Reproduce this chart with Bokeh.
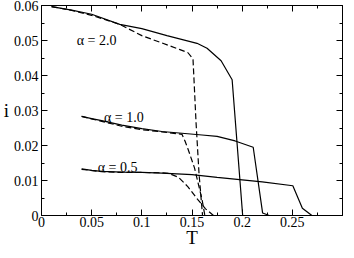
from bokeh.plotting import figure
from bokeh.models import Range1d, LinearAxis, FixedTicker, Label
from bokeh.embed import file_html
from bokeh.resources import INLINE

# ---- data ----
T_a20_solid = [0.01, 0.03, 0.05, 0.078, 0.1, 0.125, 0.155, 0.165, 0.179, 0.19, 0.2005]
i_a20_solid = [0.0597, 0.0587, 0.0575, 0.0546, 0.0534, 0.0514, 0.0492, 0.0478, 0.0442, 0.0388, 0.0]

T_a20_dash = [0.01, 0.03, 0.05, 0.078, 0.1, 0.12, 0.138, 0.146, 0.151, 0.152, 0.154, 0.157, 0.1605]
i_a20_dash = [0.0597, 0.0586, 0.0572, 0.0546, 0.0514, 0.0493, 0.0474, 0.0465, 0.0447, 0.0388, 0.0267, 0.0120, 0.0]

T_a10_solid = [0.04, 0.05, 0.06, 0.08, 0.1, 0.12, 0.14, 0.16, 0.175, 0.193, 0.211, 0.2204, 0.227]
i_a10_solid = [0.0283, 0.0277, 0.0271, 0.0258, 0.0248, 0.0240, 0.0235, 0.0230, 0.0226, 0.0213, 0.0195, 0.0007, 0.0]

T_a10_dash = [0.04, 0.06, 0.08, 0.1, 0.12, 0.14, 0.143, 0.146, 0.1525, 0.157, 0.16, 0.1628]
i_a10_dash = [0.0283, 0.0269, 0.0255, 0.0245, 0.0239, 0.0232, 0.0213, 0.0190, 0.0136, 0.0082, 0.0046, 0.0]

T_a05_solid = [0.04, 0.05, 0.06, 0.08, 0.1, 0.12, 0.15, 0.175, 0.2, 0.22, 0.2505, 0.26, 0.2695]
i_a05_solid = [0.0133, 0.0129, 0.0126, 0.0124, 0.0123, 0.0121, 0.0117, 0.0109, 0.0102, 0.0096, 0.0085, 0.0021, 0.0]

T_a05_dash = [0.04, 0.06, 0.08, 0.1, 0.12, 0.127, 0.1366, 0.146, 0.1556, 0.1635, 0.1714]
i_a05_dash = [0.0132, 0.0125, 0.0123, 0.0123, 0.0122, 0.0120, 0.0109, 0.0082, 0.0046, 0.0019, 0.0]

curve_labels = ["\u03b1 = 2.0", "\u03b1 = 1.0", "\u03b1 = 0.5"]
curve_label_T = [0.0351, 0.0623, 0.056]
curve_label_i = [0.0500, 0.0280, 0.0138]

x_major = [0, 0.05, 0.1, 0.15, 0.2, 0.25]
x_labels = ["0", "0.05", "0.1", "0.15", "0.2", "0.25"]
x_minor = [0.025, 0.075, 0.125, 0.175, 0.225, 0.275]
y_major = [0, 0.01, 0.02, 0.03, 0.04, 0.05, 0.06]
y_labels = ["0", "0.01", "0.02", "0.03", "0.04", "0.05", "0.06"]
y_minor = [0.005, 0.015, 0.025, 0.035, 0.045, 0.055]

FONT = "'Liberation Serif'"

p = figure(width=346, height=250, x_range=Range1d(0, 0.3), y_range=Range1d(0, 0.06),
           output_backend="svg", toolbar_location=None,
           min_border_left=34, min_border_right=4, min_border_top=5, min_border_bottom=31)
p.xgrid.visible = False
p.ygrid.visible = False
p.outline_line_color = "black"
p.background_fill_color = "white"
p.border_fill_color = "white"

xt = FixedTicker(ticks=x_major, minor_ticks=x_minor)
yt = FixedTicker(ticks=y_major, minor_ticks=y_minor)

def style(ax, show_labels, overrides=None):
    ax.axis_line_color = "black"
    ax.axis_line_width = 1
    ax.major_tick_in = 6
    ax.major_tick_out = 0
    ax.minor_tick_in = 3
    ax.minor_tick_out = 0
    ax.major_tick_line_color = "black"
    ax.minor_tick_line_color = "black"
    if show_labels:
        ax.major_label_text_font = FONT
        ax.major_label_text_font_size = "14px"
        ax.major_label_text_color = "black"
        ax.major_label_overrides = overrides
    else:
        ax.major_label_text_font_size = "1px"
        ax.major_label_text_color = None
        ax.major_label_standoff = 0

p.xaxis.ticker = xt
p.yaxis.ticker = yt
style(p.xaxis[0], True, dict(zip(x_major, x_labels)))
style(p.yaxis[0], True, dict(zip(y_major, y_labels)))
p.xaxis.major_label_standoff = 1
p.yaxis.major_label_standoff = 3

p.xaxis.axis_label = "T"
p.xaxis.axis_label_text_font = FONT
p.xaxis.axis_label_text_font_size = "19px"
p.xaxis.axis_label_text_font_style = "normal"
p.xaxis.axis_label_text_color = "black"
p.xaxis.axis_label_standoff = -3

p.yaxis.axis_label = "i"
p.yaxis.axis_label_orientation = "horizontal"
p.yaxis.axis_label_text_font = FONT
p.yaxis.axis_label_text_font_size = "19px"
p.yaxis.axis_label_text_font_style = "normal"
p.yaxis.axis_label_text_color = "black"
p.yaxis.axis_label_standoff = 2

top = LinearAxis(ticker=xt)
style(top, False)
right = LinearAxis(ticker=yt)
style(right, False)
p.add_layout(top, "above")
p.add_layout(right, "right")

solid = dict(line_color="black", line_width=1.2)
dash = dict(line_color="black", line_width=1.2, line_dash="6 3")
p.line(T_a20_solid, i_a20_solid, **solid)
p.line(T_a20_dash, i_a20_dash, **dash)
p.line(T_a10_solid, i_a10_solid, **solid)
p.line(T_a10_dash, i_a10_dash, **dash)
p.line(T_a05_solid, i_a05_solid, **solid)
p.line(T_a05_dash, i_a05_dash, **dash)

for txt, tx, ty in zip(curve_labels, curve_label_T, curve_label_i):
    p.add_layout(Label(x=tx, y=ty, text=txt, text_font=FONT, text_font_size="14px",
                       text_color="black", text_align="left", text_baseline="alphabetic"))

open("out.html", "w").write(file_html(p, INLINE))
